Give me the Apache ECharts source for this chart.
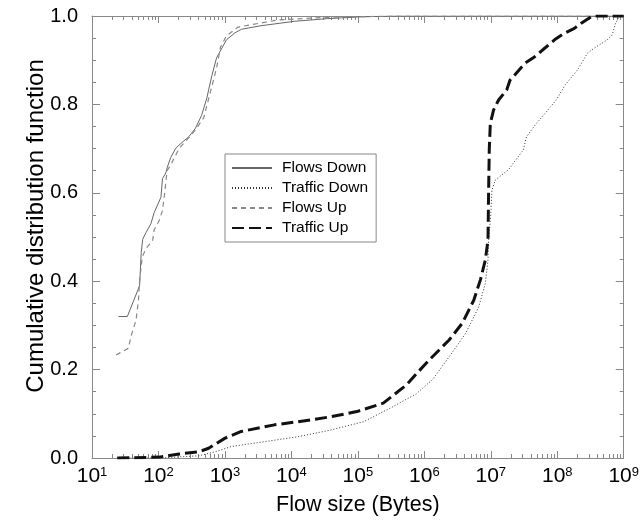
<!DOCTYPE html>
<html><head><meta charset="utf-8">
<script src="https://cdn.jsdelivr.net/npm/echarts@6/dist/echarts.min.js"></script>
<style>html,body{margin:0;padding:0;background:#fff}#c{width:642px;height:523px}</style>
</head><body><div id="c"></div>
<script>
const FONT = 'Liberation Sans, Arial, Helvetica, sans-serif';
const seriesNames = ['Flows Down', 'Traffic Down', 'Flows Up', 'Traffic Up'];
const xMajorTicks = [10, 100, 1e3, 1e4, 1e5, 1e6, 1e7, 1e8, 1e9];
const yTickLabels = ['0.0', '0.2', '0.4', '0.6', '0.8', '1.0'];

// Flows Down (bytes, cdf)
const flowsDownX = [25, 34, 49, 52, 55, 58, 65, 77, 86, 109, 115, 129, 136, 153, 181, 204, 287, 360, 445, 536, 569, 636, 748, 1052, 1419, 1780, 3490, 11060, 34600, 107000, 380000, 1e9];
const flowsDownY = [0.32, 0.32, 0.38, 0.39, 0.465, 0.495, 0.51, 0.53, 0.555, 0.59, 0.632, 0.645, 0.658, 0.68, 0.70, 0.708, 0.727, 0.746, 0.775, 0.815, 0.833, 0.865, 0.905, 0.946, 0.962, 0.97, 0.978, 0.988, 0.994, 0.998, 1.0, 1.0];

// Traffic Down
const trafficDownX = [24, 103, 404, 714, 1250, 3960, 12400, 38400, 122000, 299000, 754000, 1.34e6, 2.36e6, 4.18e6, 6.59e6, 8.28e6, 9.08e6, 9.27e6, 1.0e7, 1.04e7, 1.17e7, 1.84e7, 3.08e7, 3.45e7, 4.86e7, 6.85e7, 9.64e7, 1.33e8, 2.02e8, 2.85e8, 3.58e8, 5.65e8, 6.7e8, 7.53e8, 8.43e8, 9.0e8];
const trafficDownY = [0, 0, 0.005, 0.014, 0.026, 0.037, 0.048, 0.063, 0.082, 0.112, 0.145, 0.178, 0.229, 0.282, 0.342, 0.395, 0.448, 0.493, 0.55, 0.606, 0.629, 0.652, 0.697, 0.727, 0.757, 0.783, 0.81, 0.845, 0.878, 0.916, 0.927, 0.946, 0.957, 0.983, 0.998, 1.0];

// Flows Up
const flowsUpX = [23, 35, 40, 46, 50, 52, 57, 65, 82, 86, 103, 115, 122, 135, 155, 204, 287, 360, 480, 610, 755, 860, 1052, 1580, 6200, 34600, 380000, 1e9];
const flowsUpY = [0.233, 0.248, 0.283, 0.312, 0.357, 0.40, 0.455, 0.474, 0.493, 0.516, 0.538, 0.56, 0.59, 0.65, 0.665, 0.70, 0.725, 0.742, 0.77, 0.83, 0.885, 0.93, 0.955, 0.975, 0.991, 0.997, 1.0, 1.0];

// Traffic Up
const trafficUpX = [24, 103, 204, 404, 569, 1007, 1760, 5570, 12400, 38400, 96600, 241000, 536000, 754000, 1.19e6, 2.36e6, 3.73e6, 5.55e6, 6.98e6, 8.28e6, 9.08e6, 9.27e6, 9.5e6, 9.84e6, 1.10e7, 1.31e7, 1.74e7, 1.95e7, 2.31e7, 3.26e7, 4.59e7, 6.46e7, 9.10e7, 1.28e8, 1.81e8, 2.27e8, 3.20e8, 3.58e8, 1e9];
const trafficUpY = [0, 0.002, 0.009, 0.014, 0.022, 0.045, 0.06, 0.075, 0.082, 0.093, 0.105, 0.124, 0.165, 0.19, 0.222, 0.267, 0.305, 0.357, 0.403, 0.448, 0.493, 0.6, 0.7, 0.757, 0.787, 0.81, 0.833, 0.855, 0.867, 0.893, 0.908, 0.927, 0.946, 0.961, 0.972, 0.983, 0.998, 1.0, 1.0];

function pairs(xs, ys) { return xs.map((x, i) => [x, ys[i]]); }

const minorX = [];
for (let d = 1; d < 9; d++) for (let k = 2; k <= 9; k++) minorX.push(k * Math.pow(10, d));

const AXC = '#888';
function xAx(pos, ticks, len, showLine, showLabel, extra) {
  return Object.assign({
    type: 'log', logBase: 10, min: 10, max: 1e9, position: pos,
    axisLine: { show: showLine, lineStyle: { color: AXC, width: 1 } },
    axisTick: { show: true, inside: true, length: len, customValues: ticks, lineStyle: { color: AXC } },
    axisLabel: showLabel ? {
      customValues: xMajorTicks,
      margin: 8,
      formatter: v => '{b|10}{s|' + Math.round(Math.log10(v)) + '}',
      rich: {
        b: { fontSize: 21, fontFamily: FONT, color: '#000' },
        s: { fontSize: 13, fontFamily: FONT, color: '#000', verticalAlign: 'top' }
      }
    } : { show: false },
    splitLine: { show: false }, minorTick: { show: false }, minorSplitLine: { show: false }
  }, extra || {});
}
function yAx(pos, showLabel, extra) {
  return Object.assign({
    type: 'value', min: 0, max: 1, interval: 0.2, position: pos,
    axisLine: { show: true, lineStyle: { color: AXC, width: 1 } },
    axisTick: { show: true, inside: true, length: 8, lineStyle: { color: AXC } },
    minorTick: { show: true, splitNumber: 4, length: 4, lineStyle: { color: AXC } },
    axisLabel: showLabel ? {
      fontSize: 20, fontFamily: FONT, color: '#000', margin: 14,
      formatter: v => yTickLabels[Math.round(v / 0.2)]
    } : { show: false },
    splitLine: { show: false }
  }, extra || {});
}

const chart = echarts.init(document.getElementById('c'), null, { renderer: 'canvas' });
chart.setOption({
  animation: false,
  backgroundColor: '#fff',
  grid: { left: 92, right: 12, top: 16, bottom: 65, containLabel: false },
  xAxis: [
    xAx('bottom', xMajorTicks, 7, true, true, {
      name: 'Flow size (Bytes)', nameLocation: 'middle', nameGap: 36, nameMoveOverlap: false,
      nameTextStyle: { fontSize: 21.5, fontFamily: FONT, color: '#000' }
    }),
    xAx('bottom', minorX, 4, false, false),
    xAx('top', xMajorTicks, 7, true, false),
    xAx('top', minorX, 4, false, false)
  ],
  yAxis: [
    yAx('left', true, {
      name: 'Cumulative distribution function', nameLocation: 'middle', nameGap: 44, nameMoveOverlap: false,
      nameTextStyle: { fontSize: 24, fontFamily: FONT, color: '#000', padding: [0, 0, 0, 22] }
    }),
    yAx('right', false)
  ],
  legend: {
    orient: 'vertical', left: 225, top: 154, padding: [6, 8, 6, 6],
    itemWidth: 40, itemHeight: 14, itemGap: 4,
    borderColor: '#888', borderWidth: 1, backgroundColor: '#fff',
    itemStyle: { opacity: 0 },
    textStyle: { fontSize: 15.5, lineHeight: 14, fontFamily: FONT, color: '#000', padding: [0, 0, 0, 5] },
    data: seriesNames
  },
  series: [
    { name: seriesNames[0], type: 'line', symbol: 'none', color: '#666',
      lineStyle: { color: '#666', width: 1, type: 'solid' }, data: pairs(flowsDownX, flowsDownY) },
    { name: seriesNames[1], type: 'line', symbol: 'none', color: '#333',
      lineStyle: { color: '#333', width: 1, type: [1, 2] }, data: pairs(trafficDownX, trafficDownY) },
    { name: seriesNames[2], type: 'line', symbol: 'none', color: '#888',
      lineStyle: { color: '#888', width: 1.2, type: [5, 4] }, data: pairs(flowsUpX, flowsUpY) },
    { name: seriesNames[3], type: 'line', symbol: 'none', color: '#111',
      lineStyle: { color: '#111', width: 3, type: [12, 5] }, data: pairs(trafficUpX, trafficUpY) }
  ]
});
</script></body></html>
